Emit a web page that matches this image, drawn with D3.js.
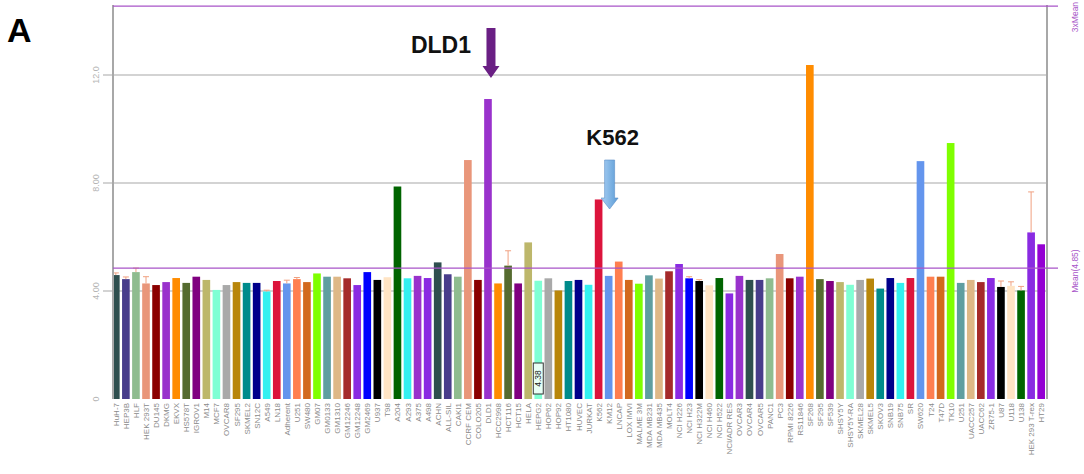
<!DOCTYPE html>
<html>
<head>
<meta charset="utf-8">
<script src="https://cdn.jsdelivr.net/npm/d3@7"></script>
<style>
  body { margin: 0; background: #fff; }
  svg { display: block; font-family: "Liberation Sans", Arial, sans-serif; }
</style>
</head>
<body>
<svg id="chart" width="1084" height="474"></svg>
<script>
// cell lines, left to right
var cellLines = ["HuH-7", "HEP3B", "HLF", "HEK 293T", "DU145", "DKMG", "EKVX", "HS578T", "IGROV1", "M14",
  "MCF7", "OVCAR8", "SF295", "SKMEL2", "SN12C", "A549", "LN18", "Adherent", "U251", "SW480",
  "GM07", "GM0133", "GM1310", "GM12246", "GM12248", "GM2469", "U937", "T98", "A204", "A293",
  "A375", "A498", "ACHN", "ALL-SIL", "CAKI1", "CCRF CEM", "COLO205", "DLD1", "HCC2998", "HCT116",
  "HCT15", "HELA", "HEPG2", "HOP62", "HOP92", "HT1080", "HUVEC", "JURKAT", "K562", "KM12",
  "LNCAP", "LOX IMVI", "MALME 3M", "MDA MB231", "MDA MB435", "MOLT4", "NCI H226", "NCI H23", "NCI H322M", "NCI H460",
  "NCI H522", "NCI/ADR RES", "OVCAR3", "OVCAR4", "OVCAR5", "PANC1", "PC3", "RPMI 8226", "RS11846", "SF268",
  "SF295 ", "SF539", "SHSY5Y", "SHSY5Y-RA", "SKMEL28", "SKMEL5", "SKOV3", "SNB19", "SNB75", "SR",
  "SW620", "T24", "T47D", "TK10", "U251 ", "UACC257", "UACC62", "ZR75-1", "U87", "U118",
  "U138", "HEK 293 T-rex", "HT29"];

var expression = [4.59, 4.44, 4.70, 4.28, 4.22, 4.33, 4.48, 4.30, 4.53, 4.41,
  4.04, 4.22, 4.33, 4.30, 4.30, 3.98, 4.37, 4.28, 4.44, 4.33,
  4.65, 4.53, 4.53, 4.47, 4.22, 4.70, 4.41, 4.51, 7.87, 4.47,
  4.56, 4.48, 5.06, 4.62, 4.53, 8.85, 4.41, 11.11, 4.28, 4.94,
  4.28, 5.80, 4.38, 4.47, 4.02, 4.37, 4.41, 4.23, 7.39, 4.56,
  5.09, 4.41, 4.27, 4.58, 4.46, 4.73, 5.00, 4.47, 4.37, 4.21,
  4.48, 3.91, 4.56, 4.41, 4.41, 4.47, 5.37, 4.47, 4.53, 12.37,
  4.44, 4.37, 4.33, 4.23, 4.41, 4.46, 4.09, 4.48, 4.30, 4.48,
  8.81, 4.53, 4.53, 9.48, 4.30, 4.41, 4.33, 4.48, 4.15, 4.19,
  4.02, 6.17, 5.73];

var errors = [0.08, 0.08, 0.15, 0.25, 0, 0, 0, 0, 0, 0,
  0, 0, 0, 0, 0, 0.05, 0, 0.12, 0.06, 0,
  0, 0, 0, 0, 0, 0, 0, 0, 0, 0,
  0, 0, 0, 0, 0, 0, 0, 0, 0, 0.55,
  0, 0, 0, 0, 0, 0, 0, 0, 0, 0,
  0, 0, 0, 0, 0, 0, 0, 0.06, 0.05, 0,
  0, 0, 0, 0, 0, 0, 0, 0, 0, 0,
  0, 0, 0, 0, 0, 0, 0, 0, 0, 0,
  0, 0, 0, 0, 0, 0, 0, 0, 0.22, 0.15,
  0.15, 1.5, 0];

var yTicks = [0, 4, 8, 12];
var yTickLabels = ["0", "4.00", "8.00", "12.0"];
var meanValue = 4.85;
var meanLabel = "Mean(4.85)";
var topValue = 14.55;
var topLabel = "3xMean";
var callouts = [{name: "DLD1", color: "#6a1f84"}, {name: "K562", color: "#7fb2e5"}];

var barColors = ["#2F4F4F", "#483D8B", "#8FBC8F", "#E9967A", "#8B0000", "#9932CC", "#FF8C00", "#556B2F", "#800080", "#BDB76B",
  "#7FFFD4", "#A9A9A9", "#B8860B", "#008B8B", "#00008B", "#33F0F0", "#DC143C", "#6495ED", "#FF7F50", "#D2691E",
  "#7FFF00", "#5F9EA0", "#DEB887", "#A52A2A", "#8A2BE2", "#0000FF", "#000000", "#FFE4C4", "#006400", "#33F0F0",
  "#9932CC", "#8A2BE2", "#2F4F4F", "#483D8B", "#8FBC8F", "#E9967A", "#8B0000", "#9932CC", "#FF8C00", "#556B2F",
  "#800080", "#BDB76B", "#7FFFD4", "#A9A9A9", "#B8860B", "#008B8B", "#00008B", "#33F0F0", "#DC143C", "#6495ED",
  "#FF7F50", "#D2691E", "#7FFF00", "#5F9EA0", "#DEB887", "#A52A2A", "#8A2BE2", "#0000FF", "#000000", "#FFE4C4",
  "#006400", "#8A2BE2", "#9932CC", "#2F4F4F", "#483D8B", "#8FBC8F", "#E9967A", "#8B0000", "#9932CC", "#FF8C00",
  "#556B2F", "#800080", "#BDB76B", "#7FFFD4", "#A9A9A9", "#B8860B", "#008B8B", "#00008B", "#33F0F0", "#DC143C",
  "#6495ED", "#FF7F50", "#D2691E", "#7FFF00", "#5F9EA0", "#DEB887", "#A52A2A", "#8A2BE2", "#000000", "#FFE4C4",
  "#006400", "#8A2BE2", "#9400D3"];

var svg = d3.select("#chart"),
    ds = cellLines.map((c, i) => ({dim: c, metric: expression[i], err: errors[i], color: barColors[i]})),
    cs = {
      left: 113, right: 1047, base: 399,
      grid: "#c4c4c4", axis: "#a8a8a8", purple: "#a855c8"
    };

cs.x = d3.scaleBand().domain(cellLines).range([111, 1046]).paddingInner(0.24).paddingOuter(0.1);
cs.y = d3.scaleLinear().domain([0, 14.6]).range([cs.base, cs.base - 14.6 * 27]);

// gridlines + y labels
svg.append("g").selectAll("line").data(yTicks.filter(t => t > 0)).enter().append("line")
  .attr("x1", 103).attr("x2", cs.right)
  .attr("y1", d => cs.y(d)).attr("y2", d => cs.y(d))
  .attr("stroke", cs.grid).attr("stroke-width", 1.5);

svg.append("g").selectAll("text").data(yTicks).enter().append("text")
  .attr("transform", d => "translate(99," + cs.y(d) + ") rotate(-90)")
  .attr("text-anchor", "middle")
  .attr("font-size", 9).attr("fill", "#b4b4b4")
  .text((d, i) => yTickLabels[i]);

// bars
svg.append("g").selectAll("rect").data(ds).enter().append("rect")
  .attr("x", d => cs.x(d.dim))
  .attr("width", cs.x.bandwidth())
  .attr("y", d => cs.y(d.metric))
  .attr("height", d => cs.base - cs.y(d.metric))
  .attr("fill", d => d.color);

// error bars
var eb = svg.append("g").attr("stroke", "#f0a080").attr("stroke-width", 1);
ds.filter(d => d.err > 0).forEach(d => {
  let cx = cs.x(d.dim) + cs.x.bandwidth() / 2;
  eb.append("line").attr("x1", cx).attr("x2", cx).attr("y1", cs.y(d.metric)).attr("y2", cs.y(d.metric + d.err));
  eb.append("line").attr("x1", cx - 3).attr("x2", cx + 3).attr("y1", cs.y(d.metric + d.err)).attr("y2", cs.y(d.metric + d.err));
});

// axes frame
svg.append("line").attr("x1", cs.left).attr("x2", cs.left).attr("y1", 5).attr("y2", cs.base)
  .attr("stroke", cs.axis).attr("stroke-width", 2);
svg.append("line").attr("x1", cs.right).attr("x2", cs.right).attr("y1", 5).attr("y2", cs.base)
  .attr("stroke", cs.axis).attr("stroke-width", 2);

// mean + 3x mean lines
[[meanValue, meanLabel, "middle"], [topValue, topLabel, "start"]].forEach(m => {
  let yy = cs.y(m[0]);
  svg.append("line").attr("x1", cs.left).attr("x2", 1058).attr("y1", yy).attr("y2", yy)
    .attr("stroke", cs.purple).attr("stroke-width", 1.3);
  svg.append("text")
    .attr("transform", "translate(1078," + (m[2] === "start" ? yy + 26 : yy + 3) + ") rotate(-90)")
    .attr("text-anchor", m[2]).attr("font-size", 8.5).attr("fill", cs.purple)
    .text(m[1]);
});

// x labels
svg.append("g").selectAll("text").data(ds).enter().append("text")
  .attr("transform", d => "translate(" + (cs.x(d.dim) + cs.x.bandwidth() / 2 + 3) + "," + (cs.base + 4) + ") rotate(-90)")
  .attr("text-anchor", "end")
  .attr("font-size", 8).attr("fill", "#8a8a8a")
  .text(d => d.dim);

// value box on HEPG2
var hv = ds[42], hx = cs.x(hv.dim) + cs.x.bandwidth() / 2;
svg.append("rect").attr("x", hx - 5).attr("y", 363).attr("width", 10).attr("height", 31)
  .attr("fill", "#e8fff6").attr("stroke", "#333").attr("stroke-width", 1);
svg.append("text").attr("transform", "translate(" + (hx + 3) + ",378.5) rotate(-90)")
  .attr("text-anchor", "middle").attr("font-size", 8.5).attr("fill", "#222")
  .text(hv.metric.toFixed(2));

// callout arrows
var arrowShape = (cx, y0, y1, sw, hw, hh) => [
  [cx - sw / 2, y0], [cx + sw / 2, y0], [cx + sw / 2, y1 - hh], [cx + hw / 2, y1 - hh],
  [cx, y1], [cx - hw / 2, y1 - hh], [cx - sw / 2, y1 - hh]
].join(" ");

var dld = ds[cellLines.indexOf(callouts[0].name)],
    dx = cs.x(dld.dim) + cs.x.bandwidth() / 2 + 3;
svg.append("polygon").attr("points", arrowShape(dx, 28, 78, 9, 17, 12)).attr("fill", callouts[0].color);
svg.append("text").attr("x", dx - 20).attr("y", 53).attr("text-anchor", "end")
  .attr("font-size", 23).attr("font-weight", "bold").attr("fill", "#111").text(callouts[0].name);

var k = ds[cellLines.indexOf(callouts[1].name)],
    kx = cs.x(k.dim) + cs.x.bandwidth() / 2 + 11;
var grad = svg.append("defs").append("linearGradient").attr("id", "kgrad").attr("x1", 0).attr("x2", 1);
grad.append("stop").attr("offset", 0).attr("stop-color", "#a9d0f5");
grad.append("stop").attr("offset", 1).attr("stop-color", "#5b9bd5");
svg.append("polygon").attr("points", arrowShape(kx, 160, 209, 10, 17, 11))
  .attr("fill", "url(#kgrad)").attr("stroke", "#5a8fc8").attr("stroke-width", 0.6);
svg.append("text").attr("x", kx + 3).attr("y", 145).attr("text-anchor", "middle")
  .attr("font-size", 22).attr("font-weight", "bold").attr("fill", "#111").text(callouts[1].name);

// panel letter
svg.append("text").attr("x", 7).attr("y", 42).attr("font-size", 34).attr("font-weight", "bold")
  .attr("fill", "#000").text("A");
</script>
</body>
</html>
